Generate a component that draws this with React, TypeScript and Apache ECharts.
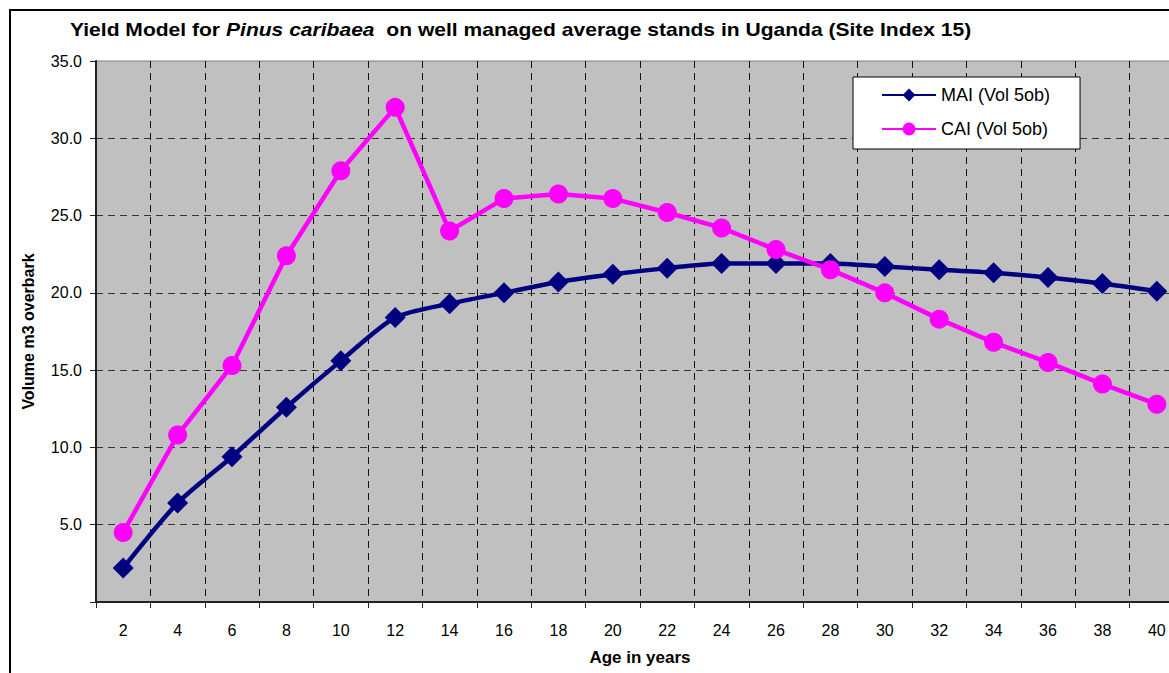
import React, { useEffect, useRef } from "react";
import * as echarts from "echarts";

const ages = ["2", "4", "6", "8", "10", "12", "14", "16", "18", "20", "22", "24", "26", "28", "30", "32", "34", "36", "38", "40"];
const maiValues = [2.2, 6.4, 9.4, 12.6, 15.6, 18.4, 19.3, 20.0, 20.7, 21.2, 21.6, 21.9, 21.9, 21.9, 21.7, 21.5, 21.3, 21.0, 20.6, 20.1];
const caiValues = [4.5, 10.8, 15.3, 22.4, 27.9, 32.0, 24.0, 26.1, 26.4, 26.1, 25.2, 24.2, 22.8, 21.5, 20.0, 18.3, 16.8, 15.5, 14.1, 12.8];
const seriesNames = ["MAI (Vol 5ob)", "CAI (Vol 5ob)"];
const yTicks = { min: 0, max: 35, interval: 5 };

const FONT = "Liberation Sans, Arial, sans-serif";

export default function App() {
  const ref = useRef<HTMLDivElement>(null);
  useEffect(() => {
    document.body.style.margin = "0";
    if (!ref.current) return;
    const chart = echarts.init(ref.current, null, { renderer: "svg" });
    chart.setOption({
      animation: false,
      backgroundColor: "#ffffff",
      textStyle: { fontFamily: FONT },
      graphic: [
        {
          type: "text",
          x: 70,
          y: 30,
          scaleX: 1.17,
          style: {
            text: "{b|Yield Model for }{i|Pinus caribaea}{b|  on well managed average stands in Uganda (Site Index 15)}",
            verticalAlign: "middle",
            align: "left",
            rich: {
              b: { fontFamily: FONT, fontWeight: "bold", fontSize: 18, fill: "#000" },
              i: { fontFamily: FONT, fontWeight: "bold", fontStyle: "italic", fontSize: 18, fill: "#000" },
            },
          },
          z: 100,
        },
        {
          type: "rect",
          shape: { x: 10, y: 10, width: 1300, height: 800 },
          style: { fill: "none", stroke: "#000", lineWidth: 2 },
          z: 100,
          silent: true,
        },
      ],
      legend: {
        orient: "vertical",
        left: 853,
        top: 77,
        padding: [9, 30, 11, 28],
        itemGap: 16,
        itemWidth: 54,
        itemHeight: 16,
        backgroundColor: "#ffffff",
        borderColor: "#000",
        borderWidth: 1,
        textStyle: { fontSize: 18, fontFamily: FONT, color: "#000" },
        data: seriesNames,
      },
      grid: {
        left: 96,
        top: 61,
        right: 16,
        height: 541,
        show: true,
        backgroundColor: "#C0C0C0",
        borderColor: "#808080",
        borderWidth: 1,
      },
      xAxis: {
        type: "category",
        data: ages,
        boundaryGap: true,
        name: "Age in years",
        nameLocation: "middle",
        nameGap: 47,
        nameTextStyle: { fontWeight: "bold", fontSize: 17, color: "#000", fontFamily: FONT },
        axisLine: { show: true, lineStyle: { color: "#222", width: 2 } },
        axisTick: { show: true, alignWithLabel: false, length: 6, lineStyle: { color: "#222" } },
        axisLabel: { interval: 0, margin: 20, fontSize: 16, color: "#000", fontFamily: FONT },
        splitLine: { show: true, interval: 0, lineStyle: { color: "#111", type: [7, 5], width: 1 } },
      },
      yAxis: {
        type: "value",
        min: yTicks.min,
        max: yTicks.max,
        interval: yTicks.interval,
        name: "Volume m3 overbark",
        nameLocation: "middle",
        nameGap: 60,
        nameTextStyle: { fontWeight: "bold", fontSize: 16, color: "#000", fontFamily: FONT },
        axisLine: { show: true, lineStyle: { color: "#222", width: 2 } },
        axisTick: { show: true, length: 6, lineStyle: { color: "#222" } },
        axisLabel: {
          margin: 14,
          fontSize: 16,
          color: "#000",
          fontFamily: FONT,
          formatter: (v: number) => (v === 0 ? "" : v.toFixed(1)),
        },
        splitLine: {
          show: true,
          lineStyle: {
            color: ["transparent", "#333", "#333", "#333", "#333", "#333", "#333", "transparent"],
            type: [7, 5],
            width: 1,
          },
        },
      },
      series: [
        {
          name: seriesNames[0],
          type: "line",
          data: maiValues,
          smooth: 0.25,
          symbol: "diamond",
          symbolSize: 21,
          lineStyle: { color: "#000080", width: 4.5 },
          itemStyle: { color: "#000080" },
          z: 3,
        },
        {
          name: seriesNames[1],
          type: "line",
          data: caiValues,
          symbol: "circle",
          symbolSize: 19,
          lineStyle: { color: "#FF00FF", width: 4.5 },
          itemStyle: { color: "#FF00FF" },
          z: 4,
        },
      ],
    });
    return () => chart.dispose();
  }, []);
  return (
    <div style={{ width: 1169, height: 673, overflow: "hidden", position: "relative" }}>
      <div ref={ref} style={{ width: 1200, height: 673 }} />
    </div>
  );
}
